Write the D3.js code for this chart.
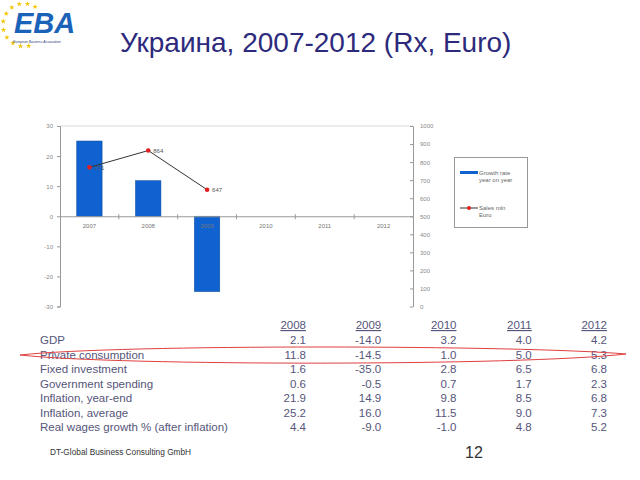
<!DOCTYPE html>
<html><head><meta charset="utf-8">
<script src="https://cdn.jsdelivr.net/npm/d3@7"></script>
<style>body{margin:0;background:#fff}svg{display:block}</style>
</head><body><svg id="c" width="640" height="480"></svg>
<script>
const categories = ["2007","2008","2009","2010","2011","2012"];
const growth = [25.0, 11.8, -25.0, null, null, null];
const sales = [771, 864, 647, null, null, null];
const leftTicks = [-30,-20,-10,0,10,20,30];
const rightTicks = [0,100,200,300,400,500,600,700,800,900,1000];
const tableYears = ["2008","2009","2010","2011","2012"];
const rowLabels = ["GDP","Private consumption","Fixed investment","Government spending","Inflation, year-end","Inflation, average","Real wages growth % (after inflation)"];
const gdp = ["2.1","-14.0","3.2","4.0","4.2"];
const privCons = ["11.8","-14.5","1.0","5.0","5.3"];
const fixedInv = ["1.6","-35.0","2.8","6.5","6.8"];
const govSpend = ["0.6","-0.5","0.7","1.7","2.3"];
const inflEnd = ["21.9","14.9","9.8","8.5","6.8"];
const inflAvg = ["25.2","16.0","11.5","9.0","7.3"];
const realWages = ["4.4","-9.0","-1.0","4.8","5.2"];
const tableRows = [gdp, privCons, fixedInv, govSpend, inflEnd, inflAvg, realWages];

const svg = d3.select("#c");
const F = "Liberation Sans, Arial, sans-serif";
const plain = d => String(d);

// logo
const logo = svg.append("g");
const starAngles = d3.range(11).map(i => 58 + i * 22.5);
logo.selectAll("path.star").data(starAngles).join("path")
  .attr("d", d3.symbol(d3.symbolStar, 9))
  .attr("transform", a => `translate(${24 + 21*Math.cos(a*Math.PI/180)},${25 - 21.5*Math.sin(a*Math.PI/180)})`)
  .attr("fill", "#f2c500");
logo.append("text").attr("x", 14).attr("y", 33).attr("font-family", F)
  .attr("font-size", 29).attr("font-weight", "bold").attr("font-style", "italic")
  .attr("fill", "#1b63b8").text("EBA");
logo.append("text").attr("x", 13).attr("y", 43).attr("font-family", F)
  .attr("font-size", 3.4).attr("font-style", "italic").attr("fill", "#1b3a7a")
  .text("European Business Association");

// title
svg.append("text").attr("x", 120).attr("y", 52).attr("font-family", F)
  .attr("font-size", 28).attr("fill", "#2d2a7c").text("Украина, 2007-2012 (Rx, Euro)");

// chart
const L = 60, R = 413, T = 126, B = 306.5;
const x = d3.scaleBand().domain(categories).range([L, R]);
const yL = d3.scaleLinear().domain([-30, 30]).range([B, T]);
const yR = d3.scaleLinear().domain([0, 1000]).range([B, T]);
const barW = x.bandwidth() * 0.43;

svg.append("line").attr("x1", L).attr("x2", R).attr("y1", T).attr("y2", T)
  .attr("stroke", "#d8d8d8").attr("stroke-width", 1);

svg.append("g").selectAll("rect").data(categories.map((c,i)=>({c, v: growth[i]})).filter(d=>d.v!==null))
  .join("rect")
  .attr("x", d => x(d.c) + (x.bandwidth()-barW)/2)
  .attr("width", barW)
  .attr("y", d => yL(Math.max(0, d.v)))
  .attr("height", d => Math.abs(yL(d.v) - yL(0)))
  .attr("fill", "#0f62d0").attr("stroke", "#0b4aa0").attr("stroke-width", 0.6);

// left axis
const axL = svg.append("g").attr("transform", `translate(${L},0)`)
  .call(d3.axisLeft(yL).tickValues(leftTicks).tickFormat(plain).tickSize(3).tickPadding(4));
axL.select(".domain").attr("stroke", "#999");
axL.selectAll(".tick line").attr("stroke", "#999");
axL.selectAll("text").attr("font-family", F).attr("font-size", 6).attr("fill", "#888");

// right axis
const axR = svg.append("g").attr("transform", `translate(${R},0)`)
  .call(d3.axisRight(yR).tickValues(rightTicks).tickFormat(plain).tickSizeInner(-3).tickSizeOuter(0).tickPadding(7));
axR.select(".domain").attr("stroke", "#999");
axR.selectAll(".tick line").attr("stroke", "#999");
axR.selectAll("text").attr("font-family", F).attr("font-size", 6).attr("fill", "#888");

// category axis at zero
const axX = svg.append("g").attr("transform", `translate(0,${yL(0)})`)
  .call(d3.axisBottom(x).tickSize(0).tickPadding(7));
axX.select(".domain").attr("stroke", "#999");
axX.selectAll("text").attr("font-family", F).attr("font-size", 6).attr("fill", "#777");
svg.append("g").selectAll("line").data(categories.slice(1)).join("line")
  .attr("x1", d => x(d)).attr("x2", d => x(d))
  .attr("y1", yL(0) - 2).attr("y2", yL(0) + 3)
  .attr("stroke", "#999");

// sales line
const pts = categories.map((c,i)=>({c, v: sales[i]})).filter(d=>d.v!==null);
svg.append("path").datum(pts)
  .attr("d", d3.line().x(d => x(d.c) + x.bandwidth()/2).y(d => yR(d.v)))
  .attr("fill", "none").attr("stroke", "#333").attr("stroke-width", 1);
svg.append("g").selectAll("circle").data(pts).join("circle")
  .attr("cx", d => x(d.c) + x.bandwidth()/2).attr("cy", d => yR(d.v)).attr("r", 2.3)
  .attr("fill", "#e02020");
svg.append("g").selectAll("text").data(pts).join("text")
  .attr("x", d => x(d.c) + x.bandwidth()/2 + 5).attr("y", d => yR(d.v) + 2.5)
  .attr("font-family", F).attr("font-size", 6).attr("fill", "#555").text(d => d.v);

// legend
const lg = svg.append("g");
lg.append("rect").attr("x", 454.5).attr("y", 157.5).attr("width", 73).attr("height", 70)
  .attr("fill", "#fff").attr("stroke", "#999").attr("stroke-width", 1);
lg.append("rect").attr("x", 460).attr("y", 171).attr("width", 18).attr("height", 3).attr("fill", "#0f62d0");
lg.append("text").attr("x", 479).attr("y", 174.5).attr("font-family", F).attr("font-size", 6).attr("fill", "#666").text("Growth  rate");
lg.append("text").attr("x", 479).attr("y", 181.5).attr("font-family", F).attr("font-size", 6).attr("fill", "#666").text("year on year");
lg.append("line").attr("x1", 460).attr("x2", 478).attr("y1", 208).attr("y2", 208).attr("stroke", "#333");
lg.append("circle").attr("cx", 469).attr("cy", 208).attr("r", 2).attr("fill", "#e02020");
lg.append("text").attr("x", 479).attr("y", 210).attr("font-family", F).attr("font-size", 6).attr("fill", "#666").text("Sales  mln");
lg.append("text").attr("x", 479).attr("y", 217).attr("font-family", F).attr("font-size", 6).attr("fill", "#666").text("Euro");

// table
const colX = d3.scalePoint().domain(tableYears).range([306, 607]);
const rowY = d3.scalePoint().domain(rowLabels).range([344, 431]);
const tcol = "#55557a";
const tg = svg.append("g").attr("font-family", F).attr("font-size", 11.5).attr("fill", tcol);
tg.selectAll("text.h").data(tableYears).join("text").attr("class","h")
  .attr("x", d => colX(d)).attr("y", 329).attr("text-anchor", "end")
  .attr("text-decoration", "underline").text(d => d);
tg.selectAll("text.l").data(rowLabels).join("text").attr("class","l")
  .attr("x", 40).attr("y", d => rowY(d)).text(d => d);
rowLabels.forEach((lab, ri) => {
  tg.selectAll(null).data(tableRows[ri]).join("text")
    .attr("x", (d,i) => colX(tableYears[i])).attr("y", rowY(lab))
    .attr("text-anchor", "end").text(d => d);
});

// red hand-drawn oval
const yc = rowY("Private consumption") - 3.5;
svg.append("path")
  .attr("d", `M20,${yc} C120,${yc-11} 520,${yc-10} 626,${yc-1} C520,${yc+11} 120,${yc+11} 20,${yc}`)
  .attr("fill", "none").attr("stroke", "#e04040").attr("stroke-width", 1);

// footer
svg.append("text").attr("x", 50).attr("y", 455).attr("font-family", F).attr("font-size", 8.3)
  .attr("fill", "#333").text("DT-Global Business Consulting GmbH");
svg.append("text").attr("x", 465).attr("y", 458).attr("font-family", F).attr("font-size", 16)
  .attr("fill", "#333").text("12");
</script></body></html>
